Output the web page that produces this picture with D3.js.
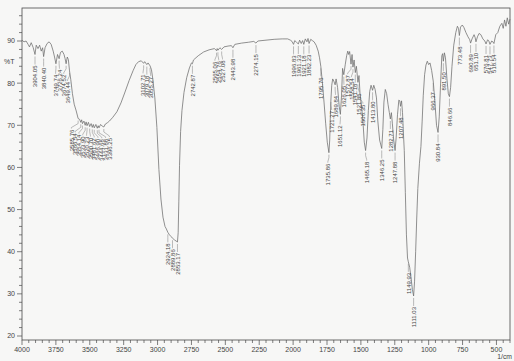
<!DOCTYPE html>
<html><head><meta charset="utf-8">
<script src="https://cdn.jsdelivr.net/npm/d3@7"></script>
<style>
html,body{margin:0;padding:0;background:#f7f7f6;}
svg{display:block;}
text{font-family:"Liberation Sans",Arial,sans-serif;fill:#444;}
</style></head>
<body>
<svg id="chart" width="514" height="361"></svg>
<script>
// ---------- DATA ----------
const wavenumbers = [
4000,3985,3970,3955,3945,3932,3918,3904.05,3895,3882,3870,3858,3848,3840.40,3830,3815,3800,3785,3770,3760,
3749.74,3738,3726.24,3716,3703,3690,3682,3674.52,3666,3658,3649.44,3640,3628,3615,3600,3585.76,3575,3566.54,3560,3554.14,
3543,3533.90,3527,3520.23,3510,3500.70,3490,3481.62,3474,3466.90,3455,3444.68,3438,3431.88,3420,3408,3396.25,3385,3370,3355,
3330,3300,3270,3240,3210,3180,3160,3140,3120,3102.71,3095,3079.18,3070,3055.27,3045,3035,3020,3005,2990,2975,
2960,2945,2935,2924.18,2912,2900,2889.86,2875,2862,2853.17,2848,2843,2838,2830,2820,2805,2785,2765,2750,2742.87,
2735,2700,2660,2620,2580,2565.06,2560,2554.76,2540,2527.08,2510,2480,2455,2443.98,2430,2380,2330,2290,2274.15,2260,
2200,2140,2080,2040,2020,2008,1996.83,1988,1975,1961.33,1952,1940,1930,1921.18,1910,1898,1890,1882.23,1870,1858,
1845,1830,1815,1805,1795.76,1785,1772,1760,1748,1735.86,1730,1726,1721.27,1715,1708,1700,1689.84,1683,1672,1660,
1651.12,1643,1635,1626.05,1615,1605,1597,1590,1583,1572.87,1565,1558.54,1550,1541.18,1533,1521.85,1514,1506.35,1495,1485,
1475,1465.18,1455,1445,1435,1425,1413.80,1405,1395,1385,1375,1362,1346.25,1338,1330,1320,1310,1300,1290,1282.71,
1275,1268,1258,1247.88,1240,1230,1220,1213,1207.48,1200,1193,1186,1180,1172,1164,1156,1149.93,1140,1130,1120,
1111.03,1104,1096,1088,1080,1068,1057,1048,1040,1030,1020,1010,1000,990,978,966.37,955,942,930.84,922,
912,903,897,891.50,884,876,865,855,846.66,838,828,815,800,788,780,773.48,765,752,740,725,
710,697,690.89,680,665,657,651.10,640,628,615,600,586,576.81,565,556,547.73,535,526,518.54,505,
490,475,460,450,440,430,420,410,400
];
const transmittance = [
90.2,89.8,90.0,89.2,88.6,89.6,88.5,86.8,89.0,88.2,89.0,87.6,88.4,86.3,88.4,89.4,89.8,89.2,87.6,86.2,
84.6,86.8,85.8,87.3,87.6,86.8,85.8,84.6,86.2,85.6,82.9,80.8,77.5,75.0,73.4,71.6,71.4,70.7,71.3,70.4,
71.0,70.0,70.8,69.9,70.7,69.7,70.4,69.5,70.2,69.4,70.2,69.3,69.9,69.4,70.2,69.8,69.6,70.3,70.6,71.0,
71.9,73.2,75.3,77.9,80.6,83.0,84.4,85.1,85.3,84.7,85.1,84.4,84.8,84.1,83.2,81.0,76.5,69.5,59.5,52.5,
48.2,46.0,45.4,44.6,44.0,43.6,43.2,42.8,42.5,42.3,44.5,52.0,60.5,68.5,73.5,77.8,81.3,83.6,84.8,84.6,
85.5,86.5,87.4,87.9,88.2,87.7,88.2,87.8,88.4,88.0,88.6,88.8,88.9,88.4,89.2,89.5,89.7,89.9,89.5,90.0,
90.2,90.4,90.5,90.5,90.2,89.9,89.2,90.1,89.7,89.3,90.2,89.4,90.1,89.2,90.5,89.8,90.6,89.4,90.4,90.1,
89.8,89.0,87.6,86.0,84.0,80.5,75.5,70.5,66.0,63.5,66.5,71.5,76.0,79.5,81.0,80.5,79.6,81.0,79.0,74.5,
72.6,77.0,83.5,82.0,84.5,86.5,87.6,86.8,87.5,84.5,86.8,83.8,85.5,82.5,84.0,80.2,81.8,77.5,74.5,71.0,
66.0,64.0,67.0,73.5,78.0,79.5,78.3,79.5,78.5,76.5,71.0,66.5,64.5,69.0,75.5,78.5,77.5,75.0,73.0,71.5,
73.0,70.5,66.5,64.0,67.0,72.5,76.0,75.8,74.5,75.8,73.0,68.0,64.0,54.0,44.0,38.5,37.6,36.3,33.8,31.0,
29.5,33.0,40.0,48.0,55.0,61.0,65.0,71.0,77.0,82.0,84.3,85.2,84.4,84.8,83.0,80.5,76.0,70.0,68.3,72.0,
80.0,86.5,87.0,85.2,87.2,86.0,81.0,77.5,76.8,79.0,84.0,89.0,92.0,93.5,93.0,91.3,93.3,93.8,93.2,92.0,
91.0,90.3,89.5,90.5,91.5,90.8,89.8,91.0,91.8,91.5,90.5,90.0,89.3,90.3,90.0,89.2,90.0,89.8,89.4,91.5,
92.0,93.5,94.2,93.0,95.0,93.5,95.5,94.0,95.2
];
const peakLabels = ["3904.05","3840.40","3749.74","3726.24","3674.52","3649.44","3585.76","3566.54","3554.14","3533.90",
"3520.23","3500.70","3481.62","3466.90","3444.68","3431.88","3396.25","3102.71","3079.18","3055.27","2924.18","2889.86",
"2853.17","2742.87","2565.06","2554.76","2527.08","2443.98","2274.15","1996.83","1961.33","1921.18","1882.23","1795.76",
"1735.86","1721.27","1689.84","1651.12","1626.05","1572.87","1558.54","1541.18","1521.85","1506.35","1465.18","1413.80",
"1346.25","1282.71","1247.88","1207.48","1149.93","1111.03","966.37","930.84","891.50","846.66","773.48","690.89",
"651.10","576.81","547.73","518.54"];
const xTickLabels = [4000,3750,3500,3250,3000,2750,2500,2250,2000,1750,1500,1250,1000,750,500];
const yTickLabels = [20,30,40,50,60,70,80,90];
const xUnit = "1/cm";
const yUnit = "%T";

// ---------- DRAW ----------
(function () {
const svg = d3.select("#chart");
const pLeft = 22, pRight = 510, pTop = 8, pBottom = 340;
const x = d3.scaleLinear().domain([4000, 400]).range([pLeft, pRight]);
const y = d3.scaleLinear().domain([20, 90]).range([336, 41]);
const axisColor = "#4a4a4a";

svg.append("rect").attr("x", pLeft).attr("y", pTop).attr("width", pRight - pLeft).attr("height", pBottom - pTop)
  .attr("fill", "none").attr("stroke", axisColor).attr("stroke-width", 0.8);

const yMax = y.invert(pTop);
const yMinor = d3.range(20, yMax, 2);
svg.append("g").selectAll("line").data(yMinor).join("line")
  .attr("x1", d => pLeft - (d % 10 === 0 ? 5 : 3)).attr("x2", pLeft)
  .attr("y1", d => y(d)).attr("y2", d => y(d))
  .attr("stroke", axisColor).attr("stroke-width", 0.7);
svg.append("g").selectAll("text").data(yTickLabels).join("text")
  .attr("x", pLeft - 7).attr("y", d => y(d)).attr("dy", "0.35em")
  .attr("text-anchor", "end").attr("font-size", 7).text(d => d);
svg.append("text").attr("x", 4).attr("y", 64).attr("font-size", 7).text(yUnit);

const xMinor = d3.range(4000, 399, -50);
svg.append("g").selectAll("line").data(xMinor).join("line")
  .attr("x1", d => x(d)).attr("x2", d => x(d))
  .attr("y1", pBottom).attr("y2", d => pBottom + (d % 250 === 0 ? 5 : 3))
  .attr("stroke", axisColor).attr("stroke-width", 0.7);
svg.append("g").selectAll("text").data(xTickLabels).join("text")
  .attr("x", d => x(d)).attr("y", 352)
  .attr("text-anchor", "middle").attr("font-size", 7).text(d => d);
svg.append("text").attr("x", 512).attr("y", 359).attr("text-anchor", "end").attr("font-size", 6.8).text(xUnit);

const pts = wavenumbers.map((w, i) => [w, transmittance[i]]);
svg.append("path").datum(pts)
  .attr("d", d3.line().x(d => x(d[0])).y(d => y(d[1])))
  .attr("fill", "none").attr("stroke", "#6c6c6c").attr("stroke-width", 0.75);

function tAt(w) {
  for (let i = 0; i < wavenumbers.length - 1; i++) {
    const a = wavenumbers[i], b = wavenumbers[i + 1];
    if (w <= a && w >= b) {
      const f = (a - w) / (a - b);
      return transmittance[i] + f * (transmittance[i + 1] - transmittance[i]);
    }
  }
  return transmittance[transmittance.length - 1];
}
const peaks = peakLabels.map(s => {
  const w = parseFloat(s);
  return { s, px: x(w), py: y(tAt(w)) };
}).sort((a, b) => a.px - b.px);

const gap = 3.8;
let clusters = peaks.map(p => ({ items: [p], sum: p.px }));
let changed = true;
while (changed) {
  changed = false;
  for (let i = 1; i < clusters.length; i++) {
    const a = clusters[i - 1], b = clusters[i];
    const aStart = a.sum / a.items.length - (a.items.length - 1) * gap / 2;
    const aEnd = aStart + (a.items.length - 1) * gap;
    const bStart = b.sum / b.items.length - (b.items.length - 1) * gap / 2;
    if (bStart - aEnd < gap) {
      a.items = a.items.concat(b.items); a.sum += b.sum;
      clusters.splice(i, 1); changed = true; break;
    }
  }
}
clusters.forEach(c => {
  const start = c.sum / c.items.length - (c.items.length - 1) * gap / 2;
  c.items.forEach((p, k) => p.tx = start + k * gap);
});

const lg = svg.append("g");
peaks.forEach(p => {
  const y0 = p.py + 2, y1 = p.py + 5, y2 = p.py + 10;
  lg.append("path")
    .attr("d", `M${p.px},${y0}L${p.px},${y1}L${p.tx},${y2 - 1}L${p.tx},${y2}`)
    .attr("fill", "none").attr("stroke", "#7a7a7a").attr("stroke-width", 0.5);
  lg.append("text")
    .attr("transform", `translate(${p.tx + 2.2},${y2 + 1}) rotate(-90)`)
    .attr("text-anchor", "end").attr("font-size", 6).attr("fill", "#555")
    .text(p.s);
});
})();
</script>
</body></html>
